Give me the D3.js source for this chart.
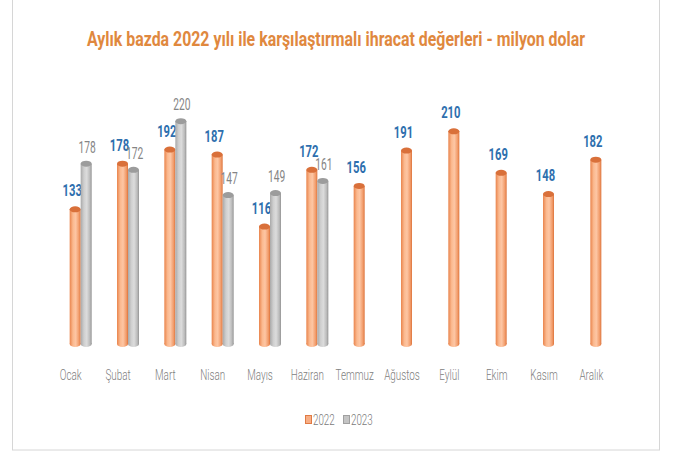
<!DOCTYPE html>
<html>
<head>
<meta charset="utf-8">
<script src="https://cdn.jsdelivr.net/npm/d3@7"></script>
<style>
  body { margin: 0; background: #fff; }
  svg text { font-family: Roboto, "Liberation Sans", sans-serif; }
</style>
</head>
<body>
<svg id="chart" width="676" height="453"></svg>
<script>
const months = ["Ocak", "Şubat", "Mart", "Nisan", "Mayıs", "Haziran", "Temmuz", "Ağustos", "Eylül", "Ekim", "Kasım", "Aralık"];
const values2022 = [133, 178, 192, 187, 116, 172, 156, 191, 210, 169, 148, 182];
const values2023 = [178, 172, 220, 147, 149, 161, null, null, null, null, null, null];
const seriesNames = ["2022", "2023"];

const svg = d3.select("svg#chart");
const bounds = { minX: 47, maxX: 615, minY: 0, maxY: 344 };

// frame
svg.append("rect")
    .attr("x", 12.5).attr("y", -2).attr("width", 647).attr("height", 452)
    .attr("fill", "none").attr("stroke", "#d6d6d6");

// gradients for the cylinders
const defs = svg.append("defs");
function cylGrad(id, stops) {
    let g = defs.append("linearGradient").attr("id", id)
        .attr("x1", "0").attr("x2", "1").attr("y1", "0").attr("y2", "0");
    stops.forEach(s => g.append("stop").attr("offset", s[0]).attr("stop-color", s[1]));
}
cylGrad("g2022", [[0, "#e9844c"], [0.3, "#fbb98f"], [0.55, "#fdc6a4"], [0.85, "#f19a68"], [1, "#dc733b"]]);
cylGrad("g2023", [[0, "#a9a9a9"], [0.3, "#cfcfcf"], [0.55, "#dcdcdc"], [0.85, "#b9b9b9"], [1, "#939393"]]);

const scaleX = d3.scaleBand().domain(months).range([bounds.minX, bounds.maxX]);
const scaleSub = d3.scaleBand().domain(seriesNames).range([-1, 21]);
const scaleY = d3.scaleLinear().domain([0, 210]).range([bounds.maxY, bounds.maxY - 212.7]);

const series = [
    { name: "2022", values: values2022, fill: "url(#g2022)", top: "#d9703a", label: "#2e6fae", weight: "bold", size: 17, sx: 0.66, dx: -3, dy: -13 },
    { name: "2023", values: values2023, fill: "url(#g2023)", top: "#9c9c9c", label: "#858585", weight: "normal", size: 16, sx: 0.64, dx: 1, dy: -11 }
];

const bw = scaleSub.bandwidth();
const ry = 3;

series.forEach(s => {
    let pts = months.map((m, i) => ({ m: m, v: s.values[i] })).filter(d => d.v != null);
    let g = svg.append("g");
    let cx = d => scaleX(d.m) + scaleX.bandwidth() / 2 + scaleSub(s.name) + bw / 2;
    // body
    g.selectAll("rect").data(pts).join("rect")
        .attr("x", d => cx(d) - bw / 2)
        .attr("y", d => scaleY(d.v))
        .attr("width", bw)
        .attr("height", d => scaleY(0) - scaleY(d.v))
        .attr("fill", s.fill);
    // bottom cap
    g.selectAll("ellipse.bot").data(pts).join("ellipse").attr("class", "bot")
        .attr("cx", cx).attr("cy", scaleY(0))
        .attr("rx", bw / 2).attr("ry", ry)
        .attr("fill", s.fill);
    // top cap
    g.selectAll("ellipse.top").data(pts).join("ellipse").attr("class", "top")
        .attr("cx", cx).attr("cy", d => scaleY(d.v))
        .attr("rx", bw / 2).attr("ry", ry)
        .attr("fill", s.top);
    // value labels (squeezed to look like a condensed face)
    g.selectAll("text").data(pts).join("text")
        .attr("transform", d => `translate(${cx(d) + s.dx} ${scaleY(d.v) + s.dy}) scale(${s.sx} 1)`)
        .attr("text-anchor", "middle")
        .attr("font-size", s.size)
        .attr("font-weight", s.weight)
        .attr("fill", s.label)
        .text(d => d.v);
});

// x axis labels
const xAxis = d3.axisBottom(scaleX).tickSize(0).tickPadding(0);
const axisG = svg.append("g").attr("transform", `translate(0 ${bounds.maxY + 22})`).call(xAxis);
axisG.select(".domain").remove();
axisG.selectAll("text")
    .attr("dy", "0.9em")
    .attr("transform", "scale(0.66 1)")
    .attr("font-size", 15)
    .attr("font-weight", 300)
    .attr("fill", "#808080")
    .style("font-family", "Roboto, sans-serif");

// title
svg.append("text")
    .attr("x", 336).attr("y", 46)
    .attr("text-anchor", "middle")
    .attr("font-size", 21)
    .attr("font-weight", "bold")
    .attr("fill", "#e0883e")
    .attr("textLength", 498).attr("lengthAdjust", "spacingAndGlyphs")
    .text("Aylık bazda 2022 yılı ile karşılaştırmalı ihracat değerleri - milyon dolar");

// legend
const legend = svg.append("g").attr("transform", "translate(305 420)");
const legendItems = [
    { name: "2022", fill: "#f7ae85", stroke: "#e07a44", x: 0 },
    { name: "2023", fill: "#c4c4c4", stroke: "#a0a0a0", x: 38 }
];
legendItems.forEach(it => {
    legend.append("rect").attr("x", it.x + 0.5).attr("y", -4.5).attr("width", 6).attr("height", 8)
        .attr("fill", it.fill).attr("stroke", it.stroke);
    legend.append("text")
        .attr("transform", `translate(${it.x + 8} 5) scale(0.7 1)`)
        .attr("font-size", 14).attr("font-weight", 300).attr("fill", "#7a7a7a").text(it.name);
});
</script>
</body>
</html>
